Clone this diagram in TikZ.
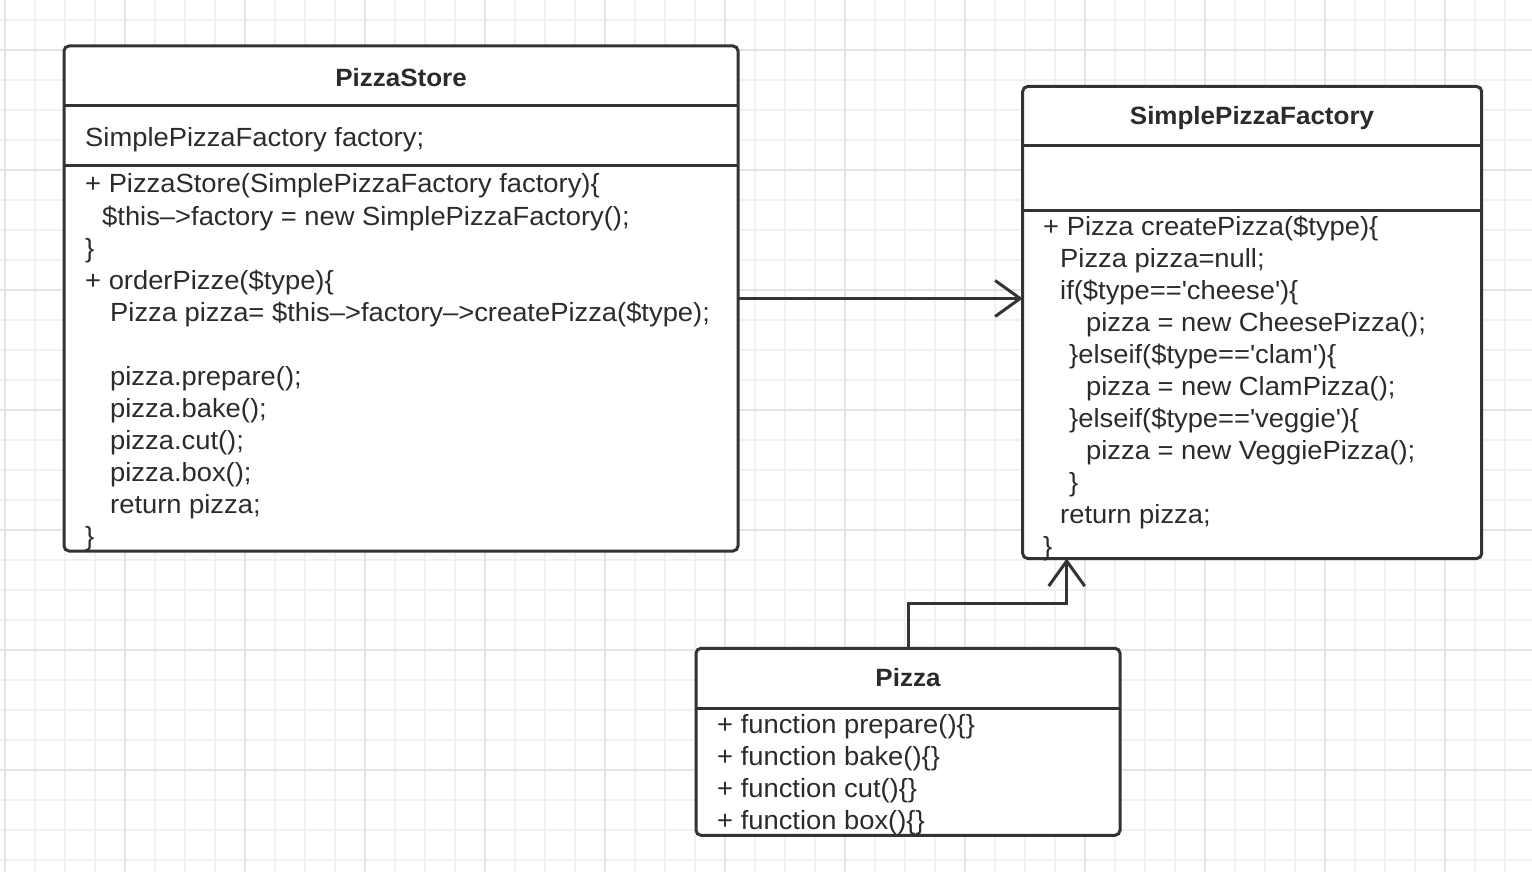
\documentclass[tikz,border=0pt]{standalone}
\usepackage{fontspec}
\setmainfont{Liberation Sans}[FakeStretch=1.04]
\usetikzlibrary{arrows.meta,calc}
\definecolor{linecol}{HTML}{333333}
\definecolor{txtcol}{HTML}{2B2B2B}
\definecolor{gridminor}{HTML}{F1F1F1}
\definecolor{gridmajor}{HTML}{E4E4E4}
\newcommand{\codefs}{\fontsize{26.3}{32}\selectfont}
\newcommand{\titlefs}{\fontsize{25}{30}\selectfont\bfseries}
\tikzset{
  classbox/.style={draw=linecol, line width=3pt, rounded corners=5pt, fill=white, inner sep=0pt, outer sep=0pt, anchor=north west},
  sepline/.style={draw=linecol, line width=3pt},
  txt/.style={anchor=base west, inner sep=0pt, font=\codefs, text=txtcol},
  ttl/.style={anchor=base, inner sep=0pt, font=\titlefs, text=txtcol},
  conn/.style={draw=linecol, line width=3pt, -{Straight Barb[length=25pt, width=36pt, line width=3pt]}},
}
\begin{document}
\begin{tikzpicture}[x=1pt, y=-1pt]
\useasboundingbox (0,0) rectangle (1532,872);
\fill[white] (0,0) rectangle (1532,872);
% grid
\foreach \k in {0,...,51} {
  \pgfmathsetmacro{\gx}{5+30*\k}
  \draw[gridminor, line width=1.5pt] (\gx,0) -- (\gx,872);
}
\foreach \k in {0,...,28} {
  \pgfmathsetmacro{\gy}{20+30*\k}
  \draw[gridminor, line width=1.5pt] (0,\gy) -- (1532,\gy);
}
\foreach \k in {0,...,12} {
  \pgfmathsetmacro{\gx}{5+120*\k}
  \draw[gridmajor, line width=1.5pt] (\gx,0) -- (\gx,872);
}
\foreach \k in {0,...,6} {
  \pgfmathsetmacro{\gy}{50+120*\k}
  \draw[gridmajor, line width=1.5pt] (0,\gy) -- (1532,\gy);
}

% PizzaStore
\node[classbox, minimum width=674pt, minimum height=505pt] (ps) at (64,46) {};
\draw[sepline] (ps.west |- 0,106) -- (ps.east |- 0,106);
\draw[sepline] (ps.west |- 0,166) -- (ps.east |- 0,166);
\node[ttl] (pst) at (401,86.7) {PizzaStore};
\node[txt] (psa) at (85,146.7) {SimplePizzaFactory factory;};
\node[txt] (ps1) at (85,193) {+ PizzaStore(SimplePizzaFactory factory)\{};
\node[txt] (ps2) at (102,225) {\$this–>factory = new SimplePizzaFactory();};
\node[txt] (ps3) at (85,257) {\}};
\node[txt] (ps4) at (85,289) {+ orderPizze(\$type)\{};
\node[txt] (ps5) at (110,321) {Pizza pizza= \$this–>factory–>createPizza(\$type);};
\node[txt] (ps6) at (110,385) {pizza.prepare();};
\node[txt] (ps7) at (110,417) {pizza.bake();};
\node[txt] (ps8) at (110,449) {pizza.cut();};
\node[txt] (ps9) at (110,481) {pizza.box();};
\node[txt] (ps10) at (110,513) {return pizza;};
\node[txt] (ps11) at (85,545) {\}};

% SimplePizzaFactory
\node[classbox, minimum width=459pt, minimum height=472pt] (spf) at (1022.7,86.5) {};
\draw[sepline] (spf.west |- 0,146) -- (spf.east |- 0,146);
\draw[sepline] (spf.west |- 0,210) -- (spf.east |- 0,210);
\node[ttl] (spft) at (1252,125) {SimplePizzaFactory};
\node[txt] (sf1) at (1043,235.7) {+ Pizza createPizza(\$type)\{};
\node[txt] (sf2) at (1060,267.7) {Pizza pizza=null;};
\node[txt] (sf3) at (1060,299.7) {if(\$type==\textquotesingle cheese\textquotesingle)\{};
\node[txt] (sf4) at (1086,331.7) {pizza = new CheesePizza();};
\node[txt] (sf5) at (1069,363.7) {\}elseif(\$type==\textquotesingle clam\textquotesingle)\{};
\node[txt] (sf6) at (1086,395.7) {pizza = new ClamPizza();};
\node[txt] (sf7) at (1069,427.7) {\}elseif(\$type==\textquotesingle veggie\textquotesingle)\{};
\node[txt] (sf8) at (1086,459.7) {pizza = new VeggiePizza();};
\node[txt] (sf9) at (1069,491.7) {\}};
\node[txt] (sf10) at (1060,523.7) {return pizza;};
\node[txt] (sf11) at (1043,555.7) {\}};

% Pizza
\node[classbox, minimum width=424pt, minimum height=187pt] (pz) at (696,648.3) {};
\draw[sepline] (pz.west |- 0,708) -- (pz.east |- 0,708);
\node[ttl] (pzt) at (908,686.7) {Pizza};
\node[txt] (pz1) at (717,733.3) {+ function prepare()\{\}};
\node[txt] (pz2) at (717,765.3) {+ function bake()\{\}};
\node[txt] (pz3) at (717,797.3) {+ function cut()\{\}};
\node[txt] (pz4) at (717,829.3) {+ function box()\{\}};

% connectors
\coordinate (spfin) at ([xshift=44pt]spf.south west);
\draw[conn] (ps.east) -- (ps.east -| spf.west);
\draw[conn] (pz.north) -- ++(0,-45) -| (spfin);
\end{tikzpicture}
\end{document}
